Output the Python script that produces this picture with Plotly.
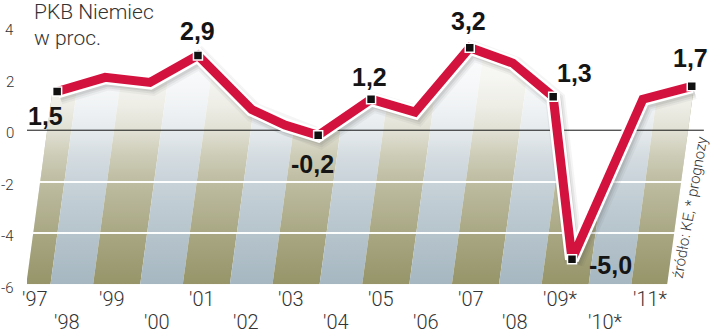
import plotly.graph_objects as go

# ---------------- data ----------------
years = list(range(1997, 2012))
x_pos = [1997.78, 1998.85, 1999.85, 2000.92, 2002.12, 2002.86, 2003.60, 2004.78,
         2005.76, 2006.98, 2007.94, 2008.84, 2009.26, 2010.84, 2011.93]
values = [1.5, 2.05, 1.85, 2.9, 0.8, 0.2, -0.2, 1.2, 0.7, 3.2, 2.6, 1.3, -5.0, 1.2, 1.7]
labeled_years = [1997, 2000, 2003, 2004, 2006, 2008, 2009, 2011]
label_shift = {1997: (-12, -24), 2000: (0, 24), 2003: (-6, -29), 2004: (-2, 22),
               2006: (-1, 27), 2008: (21, 24), 2009: (38, -6), 2011: (-1, 28)}
tick_labels = ["'97", "'98", "'99", "'00", "'01", "'02", "'03", "'04", "'05", "'06",
               "'07", "'08", "'09*", "'10*", "'11*"]
tick_pos = [1997.28] + years[1:]
y_ticks = [4, 2, 0, -2, -4, -6]
y_tick_text = ["4", "2", "0", "-2", "-4", "-6"]
title_lines = ["PKB Niemiec", "w proc."]
source_text = "źródło: KE, * prognozy"

# ---------------- geometry ----------------
XMIN, XMAX = 1997.108, 2012.27
YMIN, YMAX = -6.116, 5.047
Y0, Y1 = -6.0, 5.047
SLANT = 0.078
L_EDGE, R_EDGE = 1997.09, 2011.38
OLIVE = "rgb(150,148,104)"
BLUE = "rgb(166,183,193)"
RED = "#d3123e"


def shear(u, y):
    return u + SLANT * (y - Y0)


shapes = []
start = 1996.58
for k in range(-1, 9):
    a = start + 2 * k
    for ua, ub, col in [(a, a + 1.05, OLIVE), (a + 1.05, a + 2.0, BLUE)]:
        ua2, ub2 = max(ua, L_EDGE), min(ub, R_EDGE)
        if ub2 <= ua2:
            continue
        path = (f"M {shear(ua2, Y0)},{Y0} L {shear(ub2, Y0)},{Y0} "
                f"L {shear(ub2, Y1)},{Y1} L {shear(ua2, Y1)},{Y1} Z")
        shapes.append(dict(type="path", path=path, xref="x", yref="y",
                           fillcolor=col, line=dict(width=0), layer="below"))

fig = go.Figure()


def nrm(v):
    return (v - Y0) / (Y1 - Y0)


# fading overlay on the stripes
fig.add_trace(go.Scatter(
    x=[shear(L_EDGE, Y0), shear(R_EDGE, Y0), shear(R_EDGE, Y1), shear(L_EDGE, Y1), shear(L_EDGE, Y0)],
    y=[Y0, Y0, Y1, Y1, Y0], mode="none", fill="toself",
    fillgradient=dict(type="vertical", colorscale=[
        [0, "rgba(255,255,255,0)"],
        [nrm(-4), "rgba(255,255,255,0.18)"],
        [nrm(-2), "rgba(255,255,255,0.38)"],
        [nrm(-1), "rgba(255,255,255,0.52)"],
        [nrm(0), "rgba(255,255,255,0.72)"],
        [nrm(1), "rgba(255,255,255,0.84)"],
        [nrm(2), "rgba(255,255,255,0.91)"],
        [nrm(3.5), "rgba(255,255,255,0.97)"],
        [1, "rgba(255,255,255,1)"]]),
    hoverinfo="skip", showlegend=False))

# white area above the curve
fig.add_trace(go.Scatter(
    x=[XMIN] + x_pos + [XMAX, XMAX, XMIN],
    y=[values[0]] + values + [values[-1], YMAX, YMAX],
    mode="none", fill="toself", fillcolor="white",
    hoverinfo="skip", showlegend=False))

# zero line
fig.add_trace(go.Scatter(x=[XMIN, 2012.2], y=[0, 0], mode="lines",
                         line=dict(color="#111", width=1),
                         hoverinfo="skip", showlegend=False))

# shadow
sx = [x + 0.05 for x in x_pos]
sy = [v - 0.12 for v in values]
for w, a in [(20, 0.05), (16, 0.08), (12, 0.10)]:
    fig.add_trace(go.Scatter(x=sx, y=sy, mode="lines",
                             line=dict(color=f"rgba(60,60,60,{a})", width=w),
                             hoverinfo="skip", showlegend=False))

# line with white outline
fig.add_trace(go.Scatter(x=x_pos, y=values, mode="lines",
                         line=dict(color="white", width=14),
                         hoverinfo="skip", showlegend=False))
fig.add_trace(go.Scatter(x=x_pos, y=values, mode="lines",
                         line=dict(color=RED, width=9),
                         hoverinfo="skip", showlegend=False))

idx = [years.index(y) for y in labeled_years]
fig.add_trace(go.Scatter(x=[x_pos[i] for i in idx], y=[values[i] for i in idx],
                         mode="markers",
                         marker=dict(symbol="square", size=9, color="#111",
                                     line=dict(color="white", width=1.5)),
                         hoverinfo="skip", showlegend=False))

annotations = []
VAL_FONT = dict(family="Liberation Sans Narrow, Arial Narrow, Liberation Sans, sans-serif",
                size=25, color="#151515", weight="bold")
for y, i in zip(labeled_years, idx):
    dx, dy = label_shift[y]
    annotations.append(dict(x=x_pos[i], y=values[i], xref="x", yref="y",
                            text=f"{values[i]:.1f}".replace(".", ","),
                            showarrow=False, xshift=dx, yshift=dy,
                            xanchor="center", yanchor="middle", font=VAL_FONT))

LIGHT = dict(family="Roboto, Lato, sans-serif", color="#333333", weight=300)
for n, (p, t) in enumerate(zip(tick_pos, tick_labels)):
    row = 0 if n % 2 == 0 else 1
    annotations.append(dict(x=p, y=0, xref="x", yref="paper", text=t, showarrow=False,
                            xanchor="center", yanchor="middle",
                            yshift=-11 if row == 0 else -34,
                            font=dict(size=20, **LIGHT)))
for v, t in zip(y_ticks, y_tick_text):
    annotations.append(dict(x=0, y=v, xref="paper", yref="y", text=t, showarrow=False,
                            xanchor="right", yanchor="middle", xshift=-11, yshift=-3,
                            font=dict(size=15, **LIGHT)))
annotations.append(dict(x=0, y=1, xref="paper", yref="paper",
                        text=title_lines[0], showarrow=False, xanchor="left",
                        yanchor="middle", xshift=5, yshift=-12,
                        font=dict(size=21, **LIGHT)))
annotations.append(dict(x=0, y=1, xref="paper", yref="paper",
                        text=title_lines[1], showarrow=False, xanchor="left",
                        yanchor="middle", xshift=5, yshift=-38,
                        font=dict(size=21, **LIGHT)))
annotations.append(dict(x=2011.88, y=-3.0, xref="x", yref="y", text=source_text,
                        showarrow=False, textangle=-80, xanchor="center",
                        yanchor="middle", font=dict(size=15, **LIGHT)))

fig.update_layout(
    width=720, height=334,
    margin=dict(l=27, r=13, t=0, b=46),
    plot_bgcolor="white", paper_bgcolor="white",
    showlegend=False, shapes=shapes, annotations=annotations,
    xaxis=dict(range=[XMIN, XMAX], showgrid=False, zeroline=False,
               showticklabels=False, ticks="", showline=False, fixedrange=True),
    yaxis=dict(range=[YMIN, YMAX], tickvals=[-6, -4, -2], showgrid=True,
               gridcolor="rgba(255,255,255,0.95)", gridwidth=1.5,
               zeroline=False, showticklabels=False, ticks="", showline=False,
               fixedrange=True),
)

fig.write_html("out.html")
